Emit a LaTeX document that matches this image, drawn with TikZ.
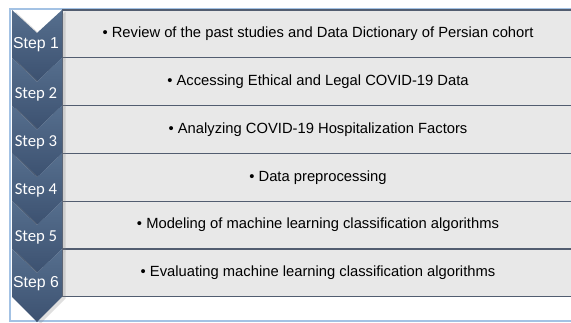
\documentclass[tikz,border=0pt]{standalone}
\usepackage{fontspec}
\setmainfont{Liberation Sans}
\newfontfamily\calfont{Carlito}
\usepackage{tikz}
\usetikzlibrary{positioning,shadows}

\definecolor{chevtop}{HTML}{566F8E}
\definecolor{chevbot}{HTML}{3C5170}
\definecolor{rowfill}{HTML}{E8E8E8}
\definecolor{rowline}{HTML}{525D70}
\definecolor{framecol}{HTML}{A3C2E4}

\begin{document}
\begin{tikzpicture}[x = 0.02cm, y = -0.02cm,
    chevron/.style = {top color = chevtop, bottom color = chevbot,
      drop shadow = {opacity = 0.25, shadow xshift = 2pt, shadow yshift = -1pt}},
    rowbox/.style = {draw = rowline, line width = 0.6pt, fill = rowfill,
      minimum width = 10.24cm, minimum height = 0.956cm, inner sep = 0pt,
      font = \fontsize{8.4}{10}\selectfont},
    steplabel/.style = {text = white, inner sep = 0pt}]

  \useasboundingbox (0, 0) rectangle (571, 322);

  % outer frame
  \draw[framecol, line width = 0.8pt] (576, 9) -- (10, 9) -- (10, 321) -- (576, 321);

  % rows with the tasks
  \node[rowbox] (R1) at (318, 33.9) {
    \textbullet\ Review of the past studies and Data Dictionary of Persian cohort
  };

  \node[rowbox] (R2) at (318, 81.7) {
    \textbullet\ Accessing Ethical and Legal COVID-19 Data
  };

  \node[rowbox] (R3) at (318, 129.5) {
    \textbullet\ Analyzing COVID-19 Hospitalization Factors
  };

  \node[rowbox] (R4) at (318, 177.3) {
    \textbullet\ Data preprocessing
  };

  \node[rowbox] (R5) at (318, 225.1) {
    \textbullet\ Modeling of machine learning classification algorithms
  };

  \node[rowbox] (R6) at (318, 272.9) {
    \textbullet\ Evaluating machine learning classification algorithms
  };

  % chevrons down the left side
  \path[chevron] (12, 10) -- (37, 33) -- (62, 10) -- (62, 57.8) -- (37, 81.8) -- (12, 57.8) -- cycle;
  \path[chevron] (12, 57.8) -- (37, 81.8) -- (62, 57.8) -- (62, 105.6) -- (37, 129.6) -- (12, 105.6) -- cycle;
  \path[chevron] (12, 105.6) -- (37, 129.6) -- (62, 105.6) -- (62, 153.4) -- (37, 177.4) -- (12, 153.4) -- cycle;
  \path[chevron] (12, 153.4) -- (37, 177.4) -- (62, 153.4) -- (62, 201.2) -- (37, 225.2) -- (12, 201.2) -- cycle;
  \path[chevron] (12, 201.2) -- (37, 225.2) -- (62, 201.2) -- (62, 249) -- (37, 273) -- (12, 249) -- cycle;
  \path[chevron] (12, 249) -- (37, 273) -- (62, 249) -- (62, 296.8) -- (37, 322) -- (12, 296.8) -- cycle;

  \node[steplabel, font = \fontsize{9}{11}\selectfont] (S1) at (36, 45) {Step 1};
  \node[steplabel, font = \calfont\fontsize{9.5}{11}\selectfont] (S2) at (36, 94) {Step 2};
  \node[steplabel, font = \calfont\fontsize{9.5}{11}\selectfont] (S3) at (36, 142) {Step 3};
  \node[steplabel, font = \calfont\fontsize{9.5}{11}\selectfont] (S4) at (36, 190) {Step 4};
  \node[steplabel, font = \calfont\fontsize{9.5}{11}\selectfont] (S5) at (36, 237) {Step 5};
  \node[steplabel, font = \fontsize{9}{11}\selectfont] (S6) at (36, 284) {Step 6};
\end{tikzpicture}
\end{document}
